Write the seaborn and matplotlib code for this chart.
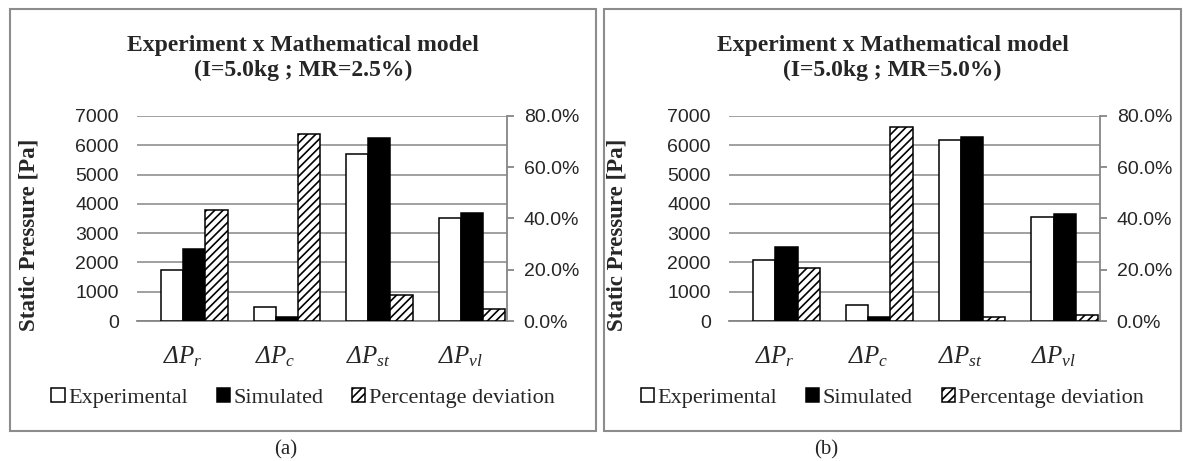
"""
Experiment x Mathematical model: static pressure drops, two mixing ratios.
"""

import matplotlib
matplotlib.use("Agg")
import matplotlib.pyplot as plt
import pandas as pd
import seaborn as sns
from matplotlib.patches import Patch, Rectangle
from matplotlib.ticker import FuncFormatter, MultipleLocator

# Data
terms = ["Pr", "Pc", "Pst", "Pvl"]
term_labels = [
    r"$\mathcal{\Delta P}_{\mathcal{r}}$",
    r"$\mathcal{\Delta P}_{\mathcal{c}}$",
    r"$\mathcal{\Delta P}_{\mathcal{st}}$",
    r"$\mathcal{\Delta P}_{\mathcal{vl}}$",
]
series_names = ["Experimental", "Simulated", "Percentage deviation"]

exp_a = [1725, 490, 5700, 3500]
sim_a = [2460, 150, 6260, 3690]
dev_a = [43.5, 72.9, 10.0, 4.5]   # %

exp_b = [2080, 560, 6170, 3560]
sim_b = [2510, 150, 6290, 3640]
dev_b = [20.8, 75.8, 1.4, 2.2]    # %

titles = [
    "Experiment x Mathematical model\n(I=5.0kg ; MR=2.5%)",
    "Experiment x Mathematical model\n(I=5.0kg ; MR=5.0%)",
]
panel_tags = ["(a)", "(b)"]

# an empty first hue slot puts the simulated bar to the right of the category centre
HUE_ORDER = ["_pad"] + series_names
PALETTE = {"_pad": "white", "Experimental": "white", "Simulated": "black",
           "Percentage deviation": "white"}
GRID = "#868686"
SERIF = "Liberation Serif"
SANS = "Liberation Sans"
W, H = 1183, 461


def build_frame(exp, sim, dev):
    """Long-form table for one panel."""
    return pd.DataFrame({
        "term": terms * 3,
        "series": [s for s in series_names for _ in terms],
        "value": exp + sim + dev,
    })


def draw_panel(ax, df, title, x0, x1):
    """Draw one Excel-style panel with a secondary percentage axis."""
    press = df[df["series"] != "Percentage deviation"]
    dev = df[df["series"] == "Percentage deviation"]

    sns.barplot(data=press, x="term", y="value", hue="series", order=terms,
                hue_order=HUE_ORDER, palette=PALETTE, saturation=1, width=0.96,
                dodge=True, errorbar=None, legend=False, edgecolor="black",
                linewidth=1.1, ax=ax, zorder=3)
    ax.set_ylim(0, 7000)
    ax.yaxis.set_major_locator(MultipleLocator(1000))
    ax.grid(axis="y", color=GRID, linewidth=1.1)
    ax.set_axisbelow(True)
    for side in ["left", "top", "right"]:
        ax.spines[side].set_visible(False)
    ax.spines["bottom"].set_color(GRID)
    ax.spines["bottom"].set_linewidth(1.3)
    ax.tick_params(axis="y", length=0, pad=13, labelsize=14)
    ax.tick_params(axis="x", length=0, pad=17)
    ax.set_xticks(range(len(terms)))
    ax.set_xticklabels(term_labels, fontsize=18)
    for lbl in ax.get_yticklabels():
        lbl.set_fontfamily(SANS)
    ax.set_xlabel("")
    ax.set_ylabel("Static Pressure [Pa]", fontsize=16.5, fontweight="bold",
                  fontfamily=SERIF)

    ax2 = ax.twinx()
    sns.barplot(data=dev, x="term", y="value", hue="series", order=terms,
                hue_order=HUE_ORDER, palette=PALETTE, saturation=1, width=0.96,
                dodge=True, errorbar=None, legend=False, edgecolor="black",
                linewidth=1.1, hatch="////", ax=ax2, zorder=3)
    ax2.set_ylim(0, 80)
    ax2.yaxis.set_major_locator(MultipleLocator(20))
    ax2.yaxis.set_major_formatter(FuncFormatter(lambda v, _: f"{v:.1f}%"))
    for side in ["left", "top", "bottom"]:
        ax2.spines[side].set_visible(False)
    ax2.spines["right"].set_color(GRID)
    ax2.spines["right"].set_linewidth(1.3)
    ax2.tick_params(axis="y", direction="out", length=5, width=1.3,
                    color=GRID, pad=7, labelsize=14)
    for lbl in ax2.get_yticklabels():
        lbl.set_fontfamily(SANS)
    ax2.set_ylabel("")
    ax2.set_xlim(ax.get_xlim())

    fig = ax.figure
    xc = (x0 + x1) / 2 / W
    fig.text(xc, 1 - 58 / H, title, ha="center", va="center", fontsize=17,
             fontweight="bold", fontfamily=SERIF, linespacing=1.25)
    handles = [
        Patch(facecolor="white", edgecolor="black", linewidth=1.1),
        Patch(facecolor="black", edgecolor="black", linewidth=1.1),
        Patch(facecolor="white", edgecolor="black", linewidth=1.1, hatch="////"),
    ]
    fig.legend(handles, series_names, loc="center", bbox_to_anchor=(xc, 1 - 398 / H),
               ncol=3, frameon=False, prop={"family": SERIF, "size": 16},
               handlelength=0.6, handleheight=0.6, handletextpad=0.15,
               columnspacing=1.3)
    fig.add_artist(Rectangle((x0 / W, 1 - 431 / H), (x1 - x0) / W, 422 / H,
                             transform=fig.transFigure, fill=False,
                             edgecolor="#8c8c8c", linewidth=1.5))


def main():
    sns.set_style("white")
    plt.rcParams["font.family"] = [SERIF, "DejaVu Serif"]
    plt.rcParams["mathtext.fontset"] = "custom"
    plt.rcParams["mathtext.rm"] = SERIF
    plt.rcParams["mathtext.it"] = f"{SERIF}:italic"
    plt.rcParams["mathtext.cal"] = f"{SERIF}:italic"
    plt.rcParams["hatch.linewidth"] = 1.2

    fig = plt.figure(figsize=(W / 100, H / 100), dpi=100)
    ax_a = fig.add_axes([137 / W, 1 - 321 / H, 370 / W, 205 / H])
    ax_b = fig.add_axes([729 / W, 1 - 321 / H, 371 / W, 205 / H])

    draw_panel(ax_a, build_frame(exp_a, sim_a, dev_a), titles[0], 10, 596)
    draw_panel(ax_b, build_frame(exp_b, sim_b, dev_b), titles[1], 604, 1181)
    ax_a.yaxis.set_label_coords((40 - 137) / 370, 0.42)
    ax_b.yaxis.set_label_coords((627 - 729) / 371, 0.42)

    fig.text(286 / W, 1 - 450 / H, panel_tags[0], ha="center", va="center", fontsize=15)
    fig.text(826 / W, 1 - 450 / H, panel_tags[1], ha="center", va="center", fontsize=15)

    fig.savefig("out.png", dpi=100, facecolor="white")
    plt.close(fig)


if __name__ == "__main__":
    main()
